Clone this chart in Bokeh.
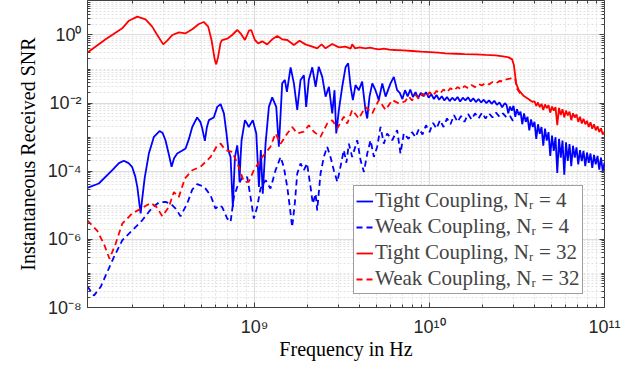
import numpy as np
from bokeh.plotting import figure
from bokeh.models import (LogAxis, FixedTicker, CustomJSTickFormatter, Legend,
                          LegendItem, Label, Range1d)
from bokeh.embed import file_html
from bokeh.resources import INLINE

# ---- data (log10 of frequency in Hz, log10 of SNR) ----
tight4_logf = [8.044, 8.11, 8.187, 8.225, 8.253, 8.280, 8.30, 8.318, 8.33, 8.343, 8.349, 8.356, 8.372,
               8.396, 8.425, 8.457, 8.475, 8.491, 8.510, 8.526, 8.540, 8.558, 8.585, 8.606, 8.625, 8.644,
               8.672, 8.690, 8.701, 8.716, 8.728, 8.739, 8.767, 8.787, 8.806, 8.825, 8.840, 8.85, 8.863,
               8.870, 8.876, 8.882, 8.888, 8.901, 8.908, 8.914, 8.920, 8.926, 8.945, 8.957, 8.967, 8.990,
               9.01, 9.025, 9.036, 9.047, 9.063, 9.082, 9.101, 9.124, 9.139, 9.158, 9.173, 9.185, 9.206,
               9.225, 9.244, 9.263, 9.282, 9.295, 9.31, 9.33, 9.349, 9.367, 9.387, 9.406, 9.425, 9.444,
               9.457, 9.467, 9.482, 9.501, 9.52, 9.535, 9.549, 9.562, 9.577, 9.596, 9.615, 9.634, 9.644,
               9.657, 9.673, 9.691, 9.71, 9.73, 9.749, 9.777, 9.796, 9.815,
               9.83, 9.845, 9.86, 9.875, 9.89, 9.905, 9.92, 9.935, 9.95, 9.965, 9.98, 9.995, 10.01, 10.025,
               10.04, 10.055, 10.07, 10.085, 10.10, 10.115, 10.13, 10.145, 10.16, 10.175, 10.19, 10.205,
               10.22, 10.235, 10.25, 10.265, 10.28, 10.295, 10.31, 10.325, 10.34, 10.355, 10.37, 10.385,
               10.40, 10.415, 10.43,
               10.44, 10.45, 10.46, 10.47, 10.48, 10.49, 10.50, 10.51, 10.52, 10.53, 10.54, 10.55, 10.56,
               10.57, 10.58, 10.59, 10.60, 10.61, 10.62, 10.63, 10.64, 10.65, 10.66, 10.67, 10.68, 10.69,
               10.70, 10.71, 10.72, 10.73, 10.74, 10.75, 10.76, 10.77, 10.78, 10.79, 10.80, 10.81, 10.82,
               10.83, 10.84, 10.85, 10.86, 10.87, 10.88, 10.89, 10.90, 10.91, 10.92, 10.93, 10.94, 10.95,
               10.96, 10.97, 10.98, 10.99, 11.00]
tight4_logsnr = [-4.49, -4.36, -3.97, -3.76, -3.69, -3.76, -3.87, -4.15, -4.46, -5.0, -5.24, -4.9, -4.2,
                 -3.48, -2.99, -2.82, -2.88, -3.09, -3.5, -3.87, -3.62, -3.48, -3.40, -3.33, -3.05, -2.70,
                 -2.42, -2.55, -2.74, -3.11, -2.7, -2.50, -2.42, -2.11, -2.03, -2.3, -2.9, -3.38, -3.58,
                 -4.4, -5.05, -4.3, -3.58, -3.24, -3.6, -4.31, -3.6, -3.09, -2.50, -2.6, -2.70, -2.50,
                 -2.89, -4.46, -3.38, -4.66, -3.19, -2.11, -1.83, -2.11, -3.28, -1.42, -1.32, -1.67, -0.95,
                 -1.42, -2.2, -1.32, -1.18, -2.11, -1.32, -0.95, -1.52, -0.93, -1.23, -1.81, -1.52, -2.3,
                 -1.62, -2.89, -2.2, -1.52, -0.95, -0.83, -1.52, -1.91, -1.47, -1.62, -1.37, -2.2, -2.45,
                 -1.81, -1.42, -1.62, -1.91, -1.42, -1.81, -1.42, -1.23, -1.62,
                 -1.70, -1.88, -1.62, -1.80, -1.60, -1.82, -1.68, -1.85, -1.70, -1.80, -1.68, -1.84, -1.74, -1.88,
                 -1.76, -1.90, -1.80, -1.92, -1.82, -1.94, -1.84, -1.92, -1.82, -1.95, -1.84, -1.92,
                 -1.83, -1.95, -1.86, -1.97, -1.88, -1.98, -1.90, -2.00, -1.92, -2.02, -1.93, -2.05,
                 -1.98, -2.12, -2.00,
                 -2.05, -2.30, -2.10, -2.22, -2.08, -2.40, -2.18, -2.35, -2.25, -2.62, -2.30, -2.55, -2.40,
                 -2.80, -2.48, -2.70, -2.55, -3.05, -2.62, -2.90, -2.70, -3.25, -2.75, -3.10, -2.85, -3.55,
                 -2.95, -3.40, -3.00, -4.05, -3.05, -3.60, -3.10, -4.10, -3.15, -3.70, -3.20, -3.85, -3.25,
                 -3.60, -3.30, -3.80, -3.38, -3.70, -3.40, -3.85, -3.45, -3.75, -3.48, -3.90, -3.52, -3.80,
                 -3.55, -3.95, -3.60, -4.00, -3.75]

weak4_logf = [8.044, 8.082, 8.12, 8.158, 8.196, 8.244, 8.30, 8.358, 8.415, 8.453, 8.49, 8.52, 8.549, 8.577,
              8.615, 8.644, 8.672, 8.695, 8.72, 8.749, 8.777, 8.796, 8.815, 8.844, 8.863, 8.882, 8.901,
              8.93, 8.958, 8.977, 8.996, 9.015, 9.034, 9.063, 9.091, 9.12, 9.149, 9.167, 9.187, 9.206,
              9.215, 9.23, 9.244, 9.263, 9.282, 9.30, 9.32, 9.333, 9.349, 9.358, 9.377, 9.396, 9.415,
              9.434, 9.453, 9.473, 9.491, 9.51, 9.525, 9.539, 9.558, 9.587, 9.606, 9.625, 9.644, 9.663,
              9.682, 9.701, 9.72, 9.739, 9.758, 9.787, 9.815, 9.834, 9.853, 9.88,
              9.90, 9.92, 9.94, 9.96, 9.98, 10.00, 10.02, 10.04, 10.06, 10.08, 10.10, 10.12, 10.14, 10.16,
              10.18, 10.20, 10.22, 10.24, 10.26, 10.28, 10.30, 10.32, 10.34, 10.36, 10.38, 10.40, 10.42,
              10.44, 10.46, 10.48]
weak4_logsnr = [-7.38, -7.65, -7.40, -6.96, -6.52, -6.03, -5.74, -5.44, -5.07, -4.92, -4.90, -4.95, -5.10,
                -5.32, -4.95, -4.54, -4.38, -4.42, -4.51, -4.71, -5.10, -5.0, -5.05, -5.39, -5.49, -4.75,
                -4.46, -4.17, -4.17, -4.75, -5.39, -5.05, -4.51, -4.26, -4.51, -3.97, -3.58, -3.87, -4.46,
                -5.24, -5.64, -4.95, -4.07, -3.77, -3.97, -3.77, -4.46, -4.95, -4.66, -5.15, -4.07, -3.58,
                -3.28, -3.58, -3.97, -4.31, -3.87, -3.38, -3.75, -3.19, -3.58, -3.09, -3.68, -4.02, -3.48,
                -3.09, -3.58, -3.28, -2.70, -3.19, -2.89, -3.09, -2.79, -3.48, -2.89, -3.05,
                -2.85, -3.00, -2.75, -2.92, -2.65, -2.85, -2.58, -2.75, -2.50, -2.70, -2.45, -2.62, -2.35, -2.55,
                -2.38, -2.55, -2.32, -2.48, -2.30, -2.45, -2.28, -2.45, -2.30, -2.42, -2.28, -2.40, -2.30,
                -2.42, -2.38, -2.55]

tight32_logf = [8.044, 8.149, 8.244, 8.282, 8.330, 8.377, 8.415, 8.444, 8.478, 8.501, 8.530, 8.568, 8.606,
                8.644, 8.682, 8.710, 8.735, 8.754, 8.773, 8.781, 8.792, 8.806, 8.815, 8.844, 8.872, 8.901,
                8.920, 8.945, 8.968, 8.981, 9.002, 9.021, 9.044, 9.072, 9.101, 9.130, 9.158, 9.187, 9.225,
                9.257, 9.291, 9.330, 9.358, 9.383, 9.406, 9.444, 9.482, 9.520, 9.549, 9.558, 9.575, 9.600,
                9.634, 9.660, 9.685, 9.710, 9.740, 9.770, 9.806, 9.850, 9.901, 9.950, 10.000, 10.050,
                10.091, 10.150, 10.200, 10.263, 10.320, 10.377, 10.420, 10.453, 10.472, 10.482, 10.488,
                10.495, 10.510, 10.539, 10.565, 10.587,
                10.60, 10.61, 10.62, 10.63, 10.64, 10.65, 10.66, 10.67, 10.68, 10.69, 10.70, 10.71, 10.72,
                10.73, 10.74, 10.75, 10.76, 10.77, 10.78, 10.79, 10.80, 10.81, 10.82, 10.83, 10.84, 10.85,
                10.86, 10.87, 10.88, 10.89, 10.90, 10.91, 10.92, 10.93, 10.94, 10.95, 10.96, 10.97, 10.98,
                10.99, 11.00]
tight32_logsnr = [-0.52, -0.127, 0.196, 0.42, 0.54, 0.46, 0.245, 0.0, -0.275, -0.167, 0.0, 0.078, 0.049,
                  0.167, 0.324, 0.382, 0.245, -0.147, -0.735, -0.863, -0.637, -0.225, -0.147, -0.108, 0.0,
                  0.147, 0.049, -0.147, 0.127, 0.147, -0.147, -0.245, -0.186, -0.275, -0.127, -0.03, -0.127,
                  -0.147, -0.294, -0.167, -0.275, -0.343, -0.392, -0.275, -0.392, -0.265, -0.363, -0.343,
                  -0.402, -0.275, -0.392, -0.36, -0.392, -0.37, -0.40, -0.42, -0.40, -0.43, -0.44, -0.45,
                  -0.47, -0.49, -0.50, -0.52, -0.54, -0.55, -0.56, -0.569, -0.585, -0.598, -0.625, -0.657,
                  -0.716, -0.88, -1.127, -1.42, -1.62, -1.794, -1.88, -1.96,
                  -1.95, -2.08, -1.98, -2.12, -2.02, -2.20, -2.04, -2.15, -2.06, -2.28, -2.10, -2.22, -2.12,
                  -2.65, -2.14, -2.35, -2.18, -2.42, -2.22, -2.36, -2.25, -2.50, -2.30, -2.42, -2.33, -2.55,
                  -2.40, -2.60, -2.46, -2.62, -2.52, -2.70, -2.56, -2.75, -2.62, -2.80, -2.68, -2.85, -2.74,
                  -2.92, -2.85]

weak32_logf = [8.044, 8.10, 8.139, 8.171, 8.206, 8.244, 8.30, 8.349, 8.406, 8.44, 8.473, 8.51, 8.539,
               8.567, 8.602, 8.644, 8.691, 8.749, 8.787, 8.806, 8.834, 8.873, 8.91, 8.939, 8.967, 8.996,
               9.044, 9.091, 9.12, 9.149, 9.187, 9.215, 9.244, 9.282, 9.31, 9.339, 9.377, 9.415, 9.444,
               9.473, 9.51, 9.53, 9.558, 9.596, 9.634, 9.673, 9.71, 9.749, 9.787, 9.825, 9.86,
               9.88, 9.90, 9.92, 9.94, 9.96, 9.98, 10.00, 10.02, 10.04, 10.06, 10.08, 10.10, 10.12, 10.14,
               10.16, 10.18, 10.20, 10.22, 10.24, 10.26, 10.28, 10.30, 10.32, 10.34, 10.36, 10.38, 10.40,
               10.42, 10.44, 10.46, 10.48, 10.49, 10.50, 10.52]
weak32_logsnr = [-5.44, -5.74, -6.13, -6.57, -6.13, -5.54, -5.24, -5.10, -4.93, -5.05, -5.32, -5.05, -4.61,
                 -4.76, -4.21, -3.97, -3.87, -3.58, -3.24, -3.19, -3.38, -3.43, -3.87, -4.31, -4.31, -3.97,
                 -3.58, -3.28, -2.89, -3.19, -2.89, -2.70, -2.89, -2.84, -2.65, -2.84, -2.99, -2.60, -2.50,
                 -2.74, -2.40, -2.60, -2.20, -2.45, -2.11, -2.30, -1.91, -2.20, -1.91, -2.01, -1.95,
                 -1.80, -1.92, -1.76, -1.88, -1.72, -1.82, -1.68, -1.78, -1.64, -1.72, -1.60, -1.68, -1.56,
                 -1.63, -1.53, -1.60, -1.50, -1.56, -1.47, -1.53, -1.44, -1.48, -1.41, -1.45, -1.38, -1.42,
                 -1.35, -1.36, -1.30, -1.28, -1.25, -1.30, -1.58, -1.72]

series_labels = ["Tight Coupling, N\u1d63 = 4", "Weak Coupling, N\u1d63 = 4",
                 "Tight Coupling, N\u1d63 = 32", "Weak Coupling, N\u1d63 = 32"]
y_major_ticks = [1e-8, 1e-6, 1e-4, 1e-2, 1e0]
x_major_ticks = [1e9, 1e10, 1e11]
x_label = "Frequency in Hz"
y_label = "Instantaneous Received SNR"
caption = "Fig. 1: SIMO Instantaneous SNR under equal power allocation for N\u1d63 ="

# ---- figure ----
p = figure(width=640, height=391, x_axis_type="log", y_axis_type="log",
           x_range=Range1d(1.11e8, 1e11), y_range=Range1d(1e-8, 10.3),
           output_backend="svg", toolbar_location=None,
           min_border_left=87, min_border_right=36, min_border_top=0, min_border_bottom=84)
p.background_fill_color = "white"
p.border_fill_color = "white"
p.outline_line_color = "#404040"
p.outline_line_width = 1

y_minor = [k * 10.0 ** e for e in range(-8, 1) for k in range(1, 10) if not (k == 1 and e % 2 == 0)]
x_minor = [k * 10.0 ** e for e in range(8, 11) for k in range(2, 10)] + [1e9, 1e10]
xt = FixedTicker(ticks=x_major_ticks, minor_ticks=x_minor)
yt = FixedTicker(ticks=y_major_ticks, minor_ticks=y_minor)

fmt = CustomJSTickFormatter(code="""
const sup = {'-':'\u207b','0':'\u2070','1':'\u00b9','2':'\u00b2','3':'\u00b3','4':'\u2074',
             '5':'\u2075','6':'\u2076','7':'\u2077','8':'\u2078','9':'\u2079'};
const e = Math.round(Math.log10(tick));
return '10' + String(e).split('').map(c => sup[c]).join('');
""")
blank_fmt = CustomJSTickFormatter(code="return '';")

for ax, t in ((p.xaxis[0], xt), (p.yaxis[0], yt)):
    ax.ticker = t
    ax.formatter = fmt
    ax.axis_line_color = "#404040"
    ax.major_tick_line_color = "#404040"
    ax.minor_tick_line_color = "#404040"
    ax.major_tick_in = 5
    ax.major_tick_out = 0
    ax.minor_tick_in = 3
    ax.minor_tick_out = 0
    ax.major_label_text_font = "Liberation Sans"
    ax.major_label_text_font_size = "18px"
    ax.major_label_text_color = "#262626"
    ax.axis_label_text_font = "Liberation Serif"
    ax.axis_label_text_font_size = "20px"
    ax.axis_label_text_font_style = "normal"
    ax.axis_label_text_color = "black"

p.xaxis.axis_label = x_label
p.yaxis.axis_label = y_label
p.xaxis.major_label_standoff = 9
p.xaxis.axis_label_standoff = -2
p.yaxis.major_label_standoff = 6
p.yaxis.axis_label_standoff = 6

for place, t in (("above", xt), ("right", yt)):
    ax = LogAxis(ticker=t, formatter=blank_fmt, major_label_text_font_size="1px",
                 major_label_standoff=0, axis_line_color=None,
                 major_tick_line_color="#404040", minor_tick_line_color="#404040",
                 major_tick_in=5, major_tick_out=0, minor_tick_in=3, minor_tick_out=0)
    p.add_layout(ax, place)

p.xgrid.ticker = xt
p.ygrid.ticker = yt
for g in (p.xgrid[0], p.ygrid[0]):
    g.grid_line_color = "#dcdcdc"
    g.grid_line_width = 1
    g.minor_grid_line_color = "#e2e2e2"
    g.minor_grid_line_dash = "2 2"

def pts(lf, ls):
    return [10.0 ** v for v in lf], [10.0 ** v for v in ls]

blue, red = "#0000ff", "#ff0000"
x, y = pts(tight4_logf, tight4_logsnr)
r1 = p.line(x, y, line_color=blue, line_width=1.8)
x, y = pts(weak4_logf, weak4_logsnr)
r2 = p.line(x, y, line_color=blue, line_width=1.8, line_dash="6 4")
x, y = pts(tight32_logf, tight32_logsnr)
r3 = p.line(x, y, line_color=red, line_width=1.8)
x, y = pts(weak32_logf, weak32_logsnr)
r4 = p.line(x, y, line_color=red, line_width=1.8, line_dash="6 4")

legend = Legend(items=[LegendItem(label=l, renderers=[r]) for l, r in zip(series_labels, [r1, r2, r3, r4])],
                location=(266, 13), padding=2, spacing=1, margin=0,
                glyph_width=17, glyph_height=22, label_height=22, label_standoff=2,
                label_text_font="Liberation Serif", label_text_font_size="21px",
                border_line_color="#404040", border_line_width=1,
                background_fill_color="white", background_fill_alpha=1.0)
p.add_layout(legend)

cap = Label(x=-85, y=-90, x_units="screen", y_units="screen", text=caption,
            text_font="Liberation Serif", text_font_size="22px", text_baseline="alphabetic",
            text_color="black")
p.add_layout(cap)

open("out.html", "w").write(file_html(p, INLINE))
